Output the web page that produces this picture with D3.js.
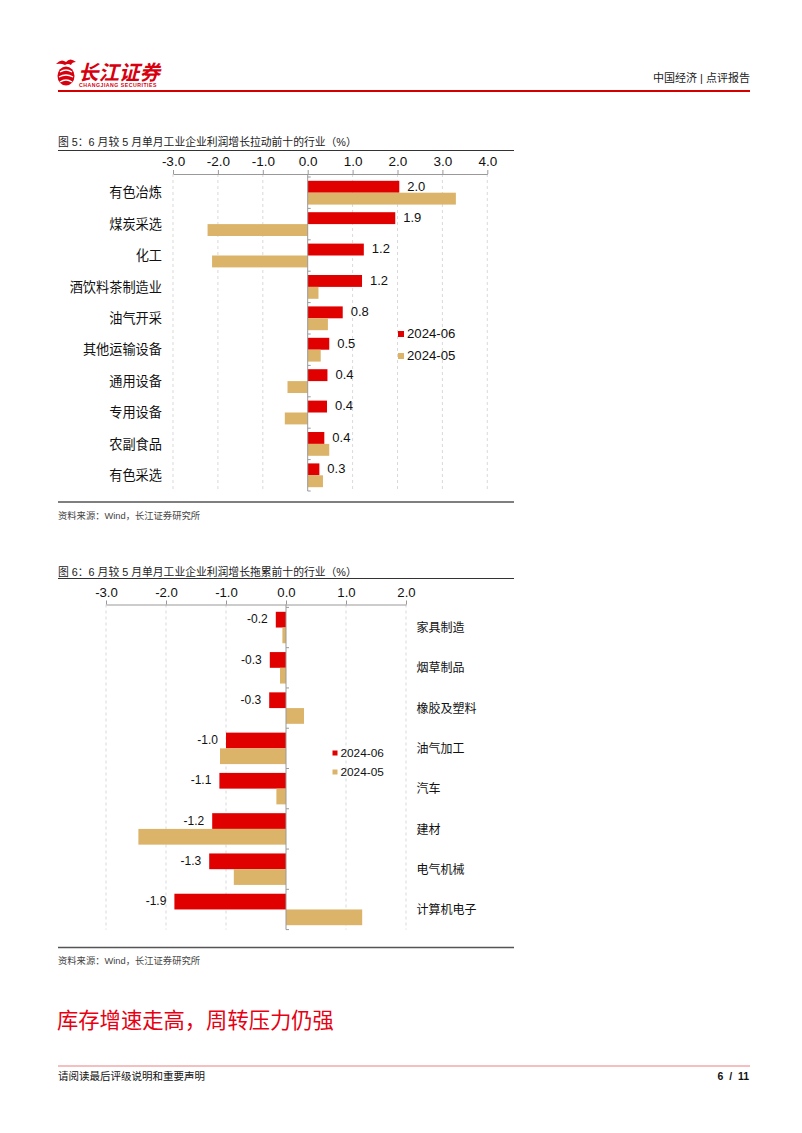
<!DOCTYPE html>
<html><head><meta charset="utf-8">
<script src="https://cdn.jsdelivr.net/npm/d3@7"></script>
<style>
html,body{margin:0;padding:0;background:#fff;}
svg{display:block;font-family:"Liberation Sans",Arial,"Noto Sans CJK SC",sans-serif;}
</style></head>
<body>
<svg id="page" width="802" height="1133"></svg>
<script>
// ---- Data ----
const seriesNames = ["2024-06", "2024-05"];
const c1Categories = ["有色冶炼","煤炭采选","化工","酒饮料茶制造业","油气开采","其他运输设备","通用设备","专用设备","农副食品","有色采选"];
const c1Jun = [2.0, 1.9, 1.2, 1.2, 0.8, 0.5, 0.4, 0.4, 0.4, 0.3];
const c1Jun_bar = [2.04, 1.95, 1.25, 1.21, 0.78, 0.48, 0.44, 0.43, 0.37, 0.26];
const c1May = [3.30, -2.23, -2.13, 0.24, 0.45, 0.29, -0.45, -0.51, 0.48, 0.34];
const c1Ticks = [-3, -2, -1, 0, 1, 2, 3, 4];

const c2Categories = ["家具制造","烟草制品","橡胶及塑料","油气加工","汽车","建材","电气机械","计算机电子"];
const c2Jun = [-0.2, -0.3, -0.3, -1.0, -1.1, -1.2, -1.3, -1.9];
const c2Jun_bar = [-0.17, -0.27, -0.28, -1.0, -1.11, -1.23, -1.28, -1.86];
const c2May = [-0.06, -0.10, 0.30, -1.10, -0.16, -2.46, -0.87, 1.27];
const c2Ticks = [-3, -2, -1, 0, 1, 2];

const RED = "#e00000", TAN = "#dbb469";
const colors = {"2024-06": RED, "2024-05": TAN};

const svg = d3.select("#page");

// ---- Header ----
const logo = svg.append("g");
logo.append("ellipse").attr("cx", 66).attr("cy", 76).attr("rx", 8.5).attr("ry", 9.5).attr("fill", "#d7000f");
logo.append("path").attr("d", "M60,72 q6,-4 12,0 M59,77 q7,-4 14,0 M60,82 q6,-4 12,0")
  .attr("stroke", "#fff").attr("stroke-width", 1.3).attr("fill", "none");
logo.append("path").attr("d", "M56,64 q5,-6 10,-2 q4,-5 10,0 q-4,0 -5,3 q-3,-2 -6,0 q-4,-2 -9,-1 z").attr("fill", "#d7000f");
logo.append("text").attr("x", 78).attr("y", 80).attr("font-size", 20.5).attr("font-weight", "bold")
  .attr("fill", "#d7000f").attr("font-style", "italic").text("长江证券");
logo.append("text").attr("x", 79).attr("y", 87).attr("font-size", 5.2).attr("font-weight", "bold")
  .attr("fill", "#d7000f").attr("letter-spacing", 0.5).text("CHANGJIANG SECURITIES");

svg.append("text").attr("x", 750).attr("y", 82).attr("text-anchor", "end").attr("font-size", 11)
  .attr("fill", "#222").text("中国经济 | 点评报告");
svg.append("line").attr("x1", 58).attr("x2", 750).attr("y1", 91).attr("y2", 91)
  .attr("stroke", "#d40000").attr("stroke-width", 2);

// ---- Chart builder ----
function chart(cfg) {
  const g = svg.append("g");
  g.append("text").attr("x", 58).attr("y", cfg.titleY).attr("font-size", 10.8).attr("fill", "#222")
    .attr("dominant-baseline", "middle").text(cfg.title);
  g.append("line").attr("x1", 58).attr("x2", 514).attr("y1", cfg.titleLineY).attr("y2", cfg.titleLineY)
    .attr("stroke", "#333").attr("stroke-width", 1);

  const x = d3.scaleLinear().domain(cfg.domain).range(cfg.xRange);
  const y = d3.scaleBand().domain(cfg.categories).range([cfg.plotTop, cfg.plotBottom]).padding(0);
  const yi = d3.scaleBand().domain(seriesNames).range([0, y.bandwidth()]).paddingInner(0).paddingOuter(cfg.innerPad);

  g.append("g").selectAll("line").data(cfg.ticks.filter(d => d !== 0)).join("line")
    .attr("x1", d => x(d)).attr("x2", d => x(d))
    .attr("y1", cfg.axisY).attr("y2", cfg.plotBottom)
    .attr("stroke", "#cfcfcf").attr("stroke-width", 0.8).attr("stroke-dasharray", "3,3");

  const ax = g.append("g").attr("transform", `translate(0,${cfg.axisY})`)
    .call(d3.axisTop(x).tickValues(cfg.ticks).tickSize(4).tickSizeOuter(0).tickPadding(4)
      .tickFormat(d => d.toFixed(1)));
  ax.select(".domain").attr("stroke", "#999");
  ax.selectAll(".tick line").attr("stroke", "#999");
  ax.selectAll(".tick text").attr("font-size", cfg.tickFont).attr("fill", "#111")
    .attr("font-family", "\"Liberation Sans\",Arial,sans-serif");

  const rows = cfg.categories.map((c, i) => ({c, vals: [
    {s: "2024-06", v: cfg.junBar[i], label: cfg.jun[i]},
    {s: "2024-05", v: cfg.may[i]}]}));
  const rg = g.append("g").selectAll("g").data(rows).join("g")
    .attr("transform", d => `translate(0,${y(d.c)})`);
  rg.selectAll("rect").data(d => d.vals).join("rect")
    .attr("x", d => x(Math.min(0, d.v))).attr("width", d => Math.abs(x(d.v) - x(0)))
    .attr("y", d => yi(d.s)).attr("height", yi.bandwidth())
    .attr("fill", d => colors[d.s]);
  rg.append("text")
    .attr("x", d => d.vals[0].v >= 0 ? x(d.vals[0].v) + 8 : x(d.vals[0].v) - 8)
    .attr("y", d => yi("2024-06") + yi.bandwidth() / 2 + 0.5)
    .attr("text-anchor", d => d.vals[0].v >= 0 ? "start" : "end")
    .attr("dominant-baseline", "middle").attr("font-size", cfg.labelFont).attr("fill", "#111")
    .text(d => d.vals[0].label.toFixed(1));

  g.append("line").attr("x1", x(0)).attr("x2", x(0)).attr("y1", cfg.axisY).attr("y2", cfg.plotBottom)
    .attr("stroke", "#999").attr("stroke-width", 1);
  const bounds = cfg.categories.map(c => y(c)).concat([cfg.plotBottom]);
  g.append("g").selectAll("line").data(bounds).join("line")
    .attr("x1", x(0)).attr("x2", x(0) + 3).attr("y1", d => d).attr("y2", d => d)
    .attr("stroke", "#999").attr("stroke-width", 1);

  g.append("g").selectAll("text").data(cfg.categories).join("text")
    .attr("x", cfg.catX).attr("y", d => y(d) + y.bandwidth() / 2 + cfg.catDy)
    .attr("text-anchor", cfg.catAnchor).attr("dominant-baseline", "middle")
    .attr("font-size", cfg.catFont).attr("fill", "#111").text(d => d);

  const lg = g.append("g").selectAll("g").data(seriesNames).join("g")
    .attr("transform", (d, i) => `translate(${cfg.legX},${cfg.legY + i * cfg.legGap})`);
  lg.append("rect").attr("x", 0).attr("y", -cfg.legSq / 2).attr("width", cfg.legSq).attr("height", cfg.legSq)
    .attr("fill", d => colors[d]);
  lg.append("text").attr("x", cfg.legSq + 3).attr("y", 0.5).attr("dominant-baseline", "middle")
    .attr("font-size", cfg.legFont).attr("fill", "#111").text(d => d);

  g.append("line").attr("x1", 58).attr("x2", 514).attr("y1", cfg.ruleY).attr("y2", cfg.ruleY)
    .attr("stroke", "#555").attr("stroke-width", 1.5);
  g.append("text").attr("x", 58).attr("y", cfg.ruleY + 14.5).attr("dominant-baseline", "middle")
    .attr("font-size", 9.3).attr("fill", "#444").text("资料来源：Wind，长江证券研究所");
}

chart({
  title: "图 5：6 月较 5 月单月工业企业利润增长拉动前十的行业（%）",
  titleY: 143.5, titleLineY: 150.5,
  categories: c1Categories, jun: c1Jun, junBar: c1Jun_bar, may: c1May, ticks: c1Ticks,
  domain: [-3, 4], xRange: [173, 487.3],
  axisY: 174, plotTop: 177, plotBottom: 491, innerPad: 0.32,
  tickFont: 13.5, labelFont: 13, catFont: 13.2, catX: 162, catAnchor: "end", catDy: 1.3,
  legX: 398, legY: 334, legGap: 22, legSq: 6, legFont: 13.2,
  ruleY: 502
});

chart({
  title: "图 6：6 月较 5 月单月工业企业利润增长拖累前十的行业（%）",
  titleY: 573, titleLineY: 578.5,
  categories: c2Categories, jun: c2Jun, junBar: c2Jun_bar, may: c2May, ticks: c2Ticks,
  domain: [-3, 2], xRange: [106, 406],
  axisY: 604.5, plotTop: 607.4, plotBottom: 929.6, innerPad: 0.28,
  tickFont: 13.2, labelFont: 12, catFont: 12, catX: 416.5, catAnchor: "start", catDy: 1.5,
  legX: 332.5, legY: 753, legGap: 19, legSq: 5, legFont: 11.8,
  ruleY: 947.5
});

// ---- Section heading & footer ----
svg.append("text").attr("x", 57).attr("y", 1022).attr("dominant-baseline", "middle")
  .attr("font-size", 21.3).attr("fill", "#e60012").text("库存增速走高，周转压力仍强");
svg.append("line").attr("x1", 58).attr("x2", 750).attr("y1", 1066).attr("y2", 1066)
  .attr("stroke", "#f2a9aa").attr("stroke-width", 1.5);
svg.append("text").attr("x", 58).attr("y", 1077).attr("dominant-baseline", "middle")
  .attr("font-size", 10.5).attr("fill", "#111").text("请阅读最后评级说明和重要声明");
svg.append("text").attr("x", 749).attr("y", 1077).attr("dominant-baseline", "middle").attr("text-anchor", "end")
  .attr("font-size", 10.5).attr("font-weight", "bold").attr("fill", "#111").attr("xml:space", "preserve")
  .style("white-space", "pre").text("6  /  11");
</script>
</body></html>
